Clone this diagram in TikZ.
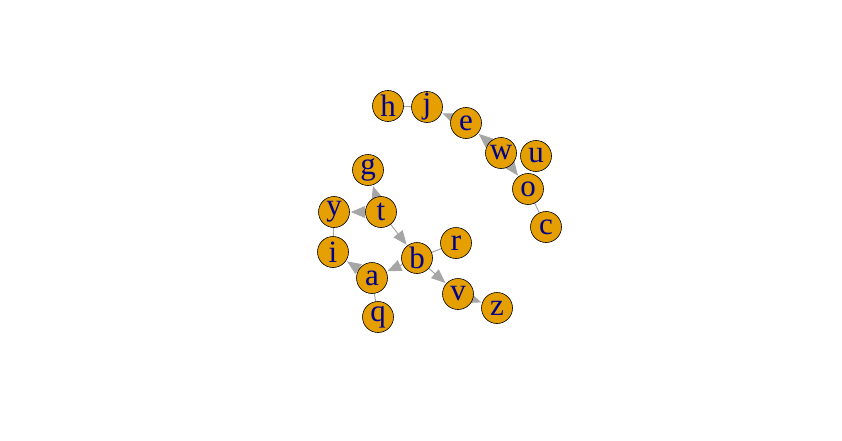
\documentclass[tikz,border=0pt]{standalone}
\usepackage{fontspec}
\setmainfont{Liberation Serif}
\usetikzlibrary{arrows.meta,backgrounds}
\definecolor{vfill}{HTML}{E69F00}
\definecolor{vtext}{HTML}{00008B}
\definecolor{egray}{HTML}{A6A6A6}
\begin{document}
\begin{tikzpicture}[x=1pt,y=-1pt,
  vert/.style={circle,draw=black,line width=0.6pt,fill=vfill,minimum size=31pt,inner sep=0pt,text=vtext,font=\fontsize{31}{31}\selectfont},
  edge/.style={draw=egray,line width=1pt},
  arr/.style={edge,shorten >=1pt,-{Triangle[length=14pt,width=11.5pt]}}]
\useasboundingbox (0,0) rectangle (842,441);
\node[vert] (h) at (388,106) {h};
\node[vert] (j) at (427,107) {j};
\node[vert] (e) at (466,123) {e};
\node[vert] (w) at (501,153) {w};
\node[vert] (u) at (536,156) {u};
\node[vert] (o) at (528,189) {o};
\node[vert] (c) at (546,227) {c};
\node[vert] (g) at (368,170) {g};
\node[vert] (y) at (334,212) {y};
\node[vert] (t) at (381,212) {t};
\node[vert] (i) at (333,252) {i};
\node[vert] (b) at (417,258) {b};
\node[vert] (r) at (456,243) {r};
\node[vert] (a) at (372,278) {a};
\node[vert] (v) at (458,294) {v};
\node[vert] (z) at (497,308) {z};
\node[vert] (q) at (378,317) {q};
\begin{scope}[on background layer]
\draw[edge] (h) -- (j);
\draw[edge] (o) -- (c);
\draw[edge] (y) -- (i);
\draw[edge] (a) -- (q);
\draw[edge] (b) -- (r);
\foreach \s/\t in {e/j,w/e,w/o,t/g,t/y,t/b,a/i,b/a,b/v,v/z}{
  \draw[arr] (\s) -- (\t);
}
\end{scope}
\end{tikzpicture}
\end{document}
